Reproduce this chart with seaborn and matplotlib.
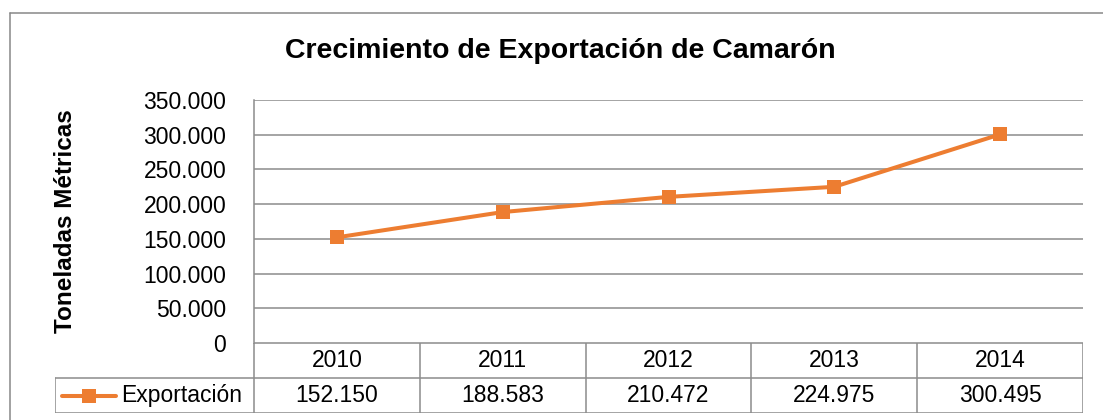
import matplotlib
matplotlib.use("Agg")
import matplotlib.pyplot as plt
import seaborn as sns
import pandas as pd

years = ["2010", "2011", "2012", "2013", "2014"]
exportacion = [152150, 188583, 210472, 224975, 300495]
tabla_valores = ["152.150", "188.583", "210.472", "224.975", "300.495"]
yticks = [0, 50000, 100000, 150000, 200000, 250000, 300000, 350000]

sns.set_style("white")
plt.rcParams["font.family"] = ["Liberation Sans", "DejaVu Sans"]
plt.rcParams["text.color"] = "black"
plt.rcParams["ytick.color"] = "black"
plt.rcParams["xtick.color"] = "black"

W, H = 1103, 420
fig = plt.figure(figsize=(W / 100, H / 100), dpi=100)

def fx(px):
    return px / W

def fy(py):
    return 1 - py / H

orange = "#ED7D31"
gray = "#8C8C8C"

# plot area
pl, pr, pt, pb = 254, 1083, 100, 343
ax = fig.add_axes([fx(pl), fy(pb), fx(pr) - fx(pl), fy(pt) - fy(pb)])
df = pd.DataFrame({"year": years, "val": exportacion})
df["x"] = range(len(years))
sns.lineplot(data=df, x="x", y="val", ax=ax, color=orange, linewidth=2.9,
             marker="s", markersize=10, markeredgewidth=0, markeredgecolor=orange)
ax.set_xlim(-0.5, len(years) - 0.5)
ax.set_ylim(0, 350000)
ax.set_yticks(yticks)
ax.set_yticklabels([f"{v:,}".replace(",", ".") for v in yticks], fontsize=16.5)
ax.set_xticks([])
ax.set_xlabel("")
ax.set_ylabel("")
ax.tick_params(axis="y", length=0, pad=20, labelcolor="black")
for v in yticks:
    ax.axhline(v, color=gray, lw=1.1, zorder=0)
for s in ["top", "right", "bottom"]:
    ax.spines[s].set_visible(False)
ax.spines["left"].set_color(gray)
ax.spines["left"].set_linewidth(1.1)

# data table
tl, tt, tb = 55, 343, 413
colw = (pr - pl) / len(years)
tab = fig.add_axes([fx(tl), fy(tb), fx(pr) - fx(tl), fy(tt) - fy(tb)])
tab.set_xlim(tl, pr)
tab.set_ylim(tb, tt)
tab.axis("off")
rmid = (tt + tb) / 2
lk = dict(color=gray, lw=1.1)
tab.plot([pl, pr], [tt, tt], **lk)
tab.plot([tl, pr], [rmid, rmid], **lk)
tab.plot([tl, pr], [tb, tb], **lk)
tab.plot([tl, tl], [rmid, tb], **lk)
for i in range(len(years) + 1):
    tab.plot([pl + i * colw] * 2, [tt, tb], **lk)
for i, (yr, tv) in enumerate(zip(years, tabla_valores)):
    cx = pl + (i + 0.5) * colw
    tab.text(cx, (tt + rmid) / 2, yr, ha="center", va="center", fontsize=16.5)
    tab.text(cx, (rmid + tb) / 2, tv, ha="center", va="center", fontsize=16.5)
ly = (rmid + tb) / 2
tab.plot([62, 116], [ly, ly], color=orange, lw=2.9)
tab.plot([89], [ly], marker="s", color=orange, markersize=10, markeredgewidth=0)
tab.text(121, ly, "Exportación", ha="left", va="center", fontsize=16.5)

# titles
fig.text(fx(560), fy(51), "Crecimiento de Exportación de Camarón",
         ha="center", va="center", fontsize=20.5, fontweight="bold")
fig.text(fx(66), fy(221), "Toneladas Métricas", rotation=90,
         ha="center", va="center", fontsize=17.5, fontweight="bold")

# chart border
fig.add_artist(plt.Line2D([fx(10), 1], [fy(13), fy(13)], color="#878787", lw=1.1))
fig.add_artist(plt.Line2D([fx(10), fx(10)], [fy(13), 0], color="#878787", lw=1.1))

fig.savefig("out.png", dpi=100)
